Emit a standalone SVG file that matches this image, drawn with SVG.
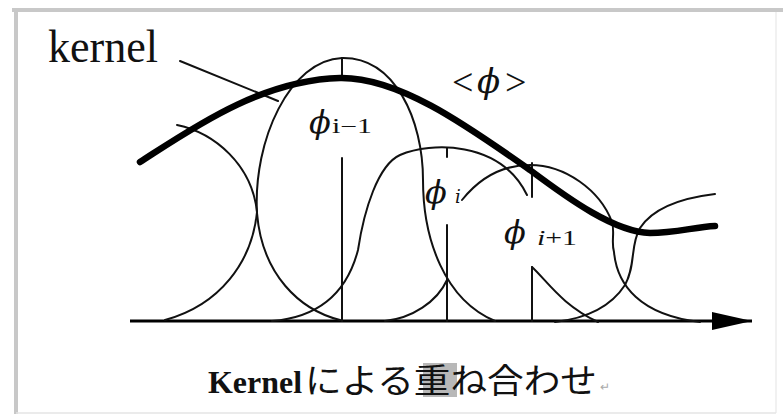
<svg xmlns="http://www.w3.org/2000/svg" width="783" height="414" viewBox="0 0 783 414">
<style>
.thin{fill:none;stroke:#111;stroke-width:2;stroke-linecap:round;stroke-linejoin:round}
.thick{fill:none;stroke:#000;stroke-width:6.5;stroke-linecap:round;stroke-linejoin:round}
.serif{font-family:"Liberation Serif","DejaVu Serif",serif;fill:#111}
.phi{font-family:"DejaVu Serif","Liberation Serif",serif;font-style:italic;fill:#111}
.jp{font-family:"Noto Sans CJK JP","Noto Sans",sans-serif;fill:#111}
</style>
<defs>
<marker id="arrow" viewBox="0 0 40 18" refX="40" refY="9" markerWidth="40" markerHeight="18" markerUnits="userSpaceOnUse" orient="auto">
<polygon points="0,0 40,9 0,18" fill="#000"/>
</marker>
</defs>
<rect x="0" y="0" width="783" height="414" fill="#fff"/>
<g id="frame">
<line x1="12" y1="10" x2="783" y2="10" stroke="#c8c8c8" stroke-width="4"/>
<line x1="16" y1="8" x2="16" y2="414" stroke="#c8c8c8" stroke-width="4"/>
<line x1="776" y1="12" x2="776" y2="413" stroke="#ececec" stroke-width="1.5"/>
<line x1="16" y1="413" x2="776" y2="413" stroke="#e4e4e4" stroke-width="1.5"/>
</g>
<g id="axis">
<line x1="130" y1="321" x2="752" y2="321" stroke="#000" stroke-width="2.8" marker-end="url(#arrow)"/>
</g>
<g id="connectors">
<path class="thin" d="M180,61 L278,101"/>
</g>
<g id="kernel-0">
<path class="thin" d="M177,125 C215,133 252,165 257,212 C252,262 220,305 165,320"/>
</g>
<g id="kernel-im1">
<path class="thin" d="M340,320 C300,310 262,275 257,213 C253,140 290,60 342,58 C395,57 423,120 423,180 C423,240 445,300 495,321"/>
<line class="thin" x1="342" y1="58" x2="342" y2="80"/>
<line class="thin" x1="342" y1="158" x2="342" y2="321"/>
</g>
<g id="kernel-i">
<path class="thin" d="M272,321 C310,318 345,300 358,250 C364,210 378,165 400,155 C430,142 500,140 527,195"/>
<path class="thin" d="M385,321 C412,318 437,302 447,280"/>
<line class="thin" x1="447" y1="148" x2="447" y2="157"/>
<line class="thin" x1="447" y1="225" x2="447" y2="321"/>
</g>
<g id="kernel-ip1">
<path class="thin" d="M462,200 C478,180 500,165 530,165 C565,165 600,190 612,222 C615,232 611,242 614,252 C617,285 640,315 700,322"/>
<line class="thin" x1="532" y1="163" x2="532" y2="197"/>
<line class="thin" x1="532" y1="267" x2="532" y2="321"/>
<path class="thin" d="M532,267 C548,282 562,305 598,322"/>
</g>
<g id="kernel-ip2">
<path class="thin" d="M715,194 C690,197 655,205 640,228 C630,245 636,265 625,285 C612,305 590,318 555,322"/>
</g>
<g id="sum-curve">
<path class="thick" d="M140,162 C190,130 260,80 340,78 C400,77 470,128 530,170 C570,200 615,232 650,233 C675,233 695,227 715,226"/>
</g>
<g id="labels">
<text class="serif" x="48" y="62" font-size="46" textLength="110" lengthAdjust="spacingAndGlyphs">kernel</text>
<text class="serif" x="452" y="95" font-size="38">&lt;</text>
<text class="phi" x="477" y="93" font-size="34">ϕ</text>
<text class="serif" x="505" y="95" font-size="38">&gt;</text>
<text class="phi" x="309" y="133" font-size="32">ϕ</text>
<text class="serif" x="332" y="133" font-size="20" textLength="40" lengthAdjust="spacingAndGlyphs">i−1</text>
<text class="phi" x="425" y="203" font-size="32">ϕ</text>
<text class="phi" x="455" y="203" font-size="18">i</text>
<text class="phi" x="504" y="243" font-size="32">ϕ</text>
<text class="serif" x="537" y="245" font-size="20" textLength="40" lengthAdjust="spacingAndGlyphs"><tspan font-style="italic">i</tspan>+1</text>
</g>
<g id="caption">
<rect x="423" y="363" width="34" height="34" fill="#b8b8b8"/>
<text class="serif" x="208" y="393" font-size="32" font-weight="bold" textLength="94" lengthAdjust="spacingAndGlyphs">Kernel</text>
<text class="jp" x="305" y="393" font-size="34" textLength="292" lengthAdjust="spacingAndGlyphs">による重ね合わせ</text>
<text class="jp" x="600" y="391" font-size="12" style="fill:#aaa">↵</text>
</g>
</svg>
